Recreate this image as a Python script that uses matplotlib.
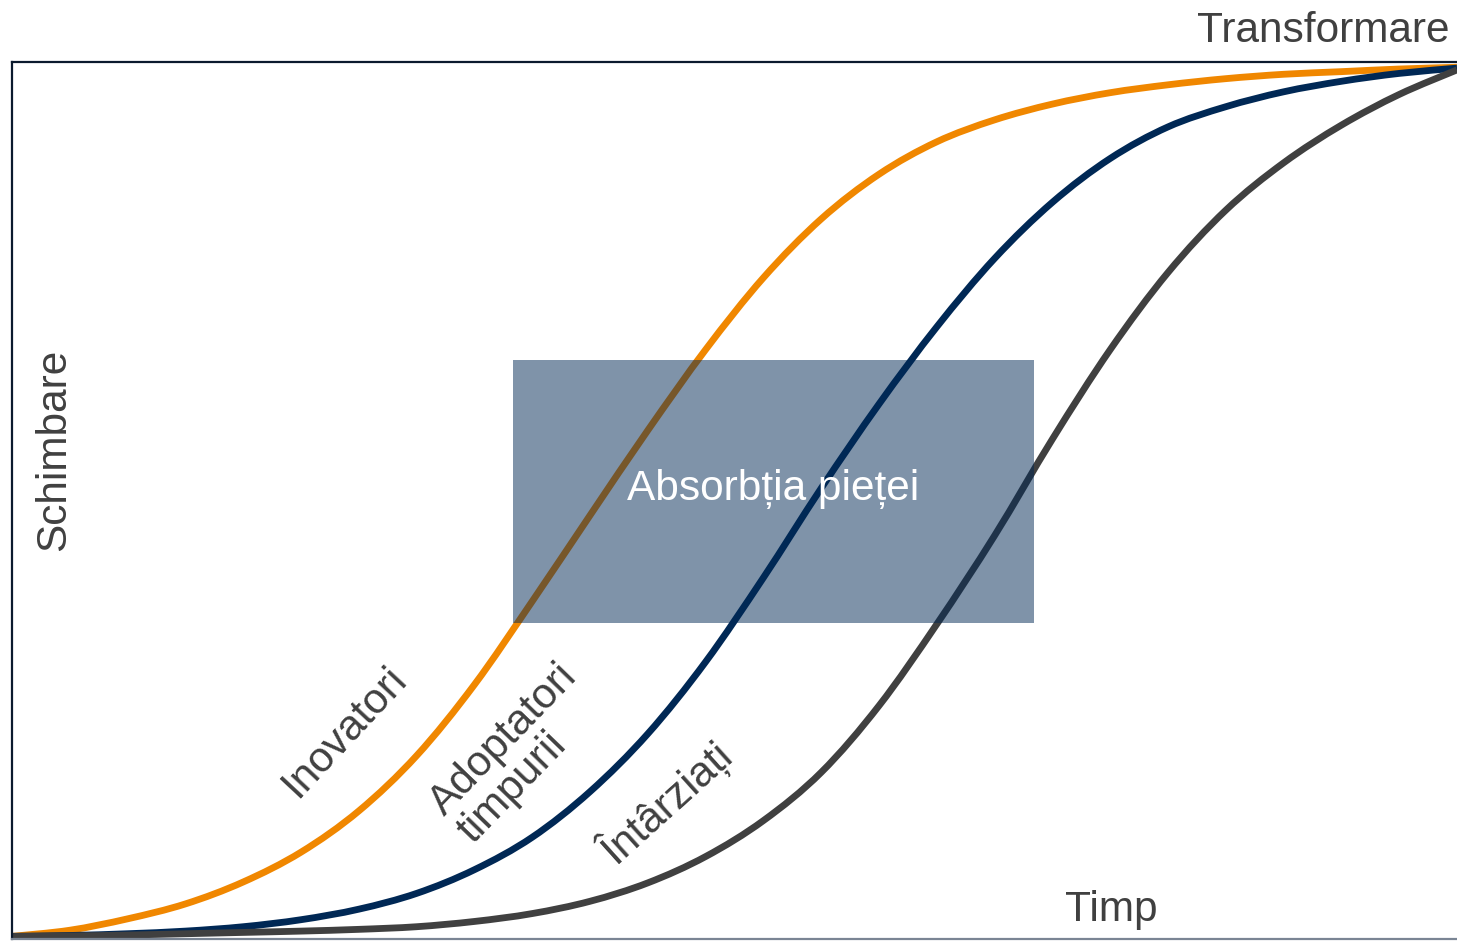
import matplotlib
matplotlib.use("Agg")
import matplotlib.pyplot as plt
from matplotlib.patches import Rectangle, PathPatch
from matplotlib.path import Path

# ---- data (axis units 0..100) ----
x_grid = [0, 4, 8, 12, 16, 20, 24, 28, 32, 36, 40, 44, 48, 52,
          56, 60, 64, 68, 72, 76, 80, 84, 88, 92, 96, 100]
inovatori = [0.3, 1.0, 2.3, 4.0, 6.5, 9.9, 14.6, 20.9, 29.0, 38.5, 48.3, 58.0, 67.2, 75.4,
             82.1, 87.2, 90.9, 93.4, 95.2, 96.5, 97.4, 98.1, 98.6, 98.9, 99.2, 99.4]
adoptatori = [0.3, 0.4, 0.6, 0.9, 1.4, 2.2, 3.4, 5.2, 7.9, 11.6, 16.8, 23.4, 31.6, 41.2,
              51.4, 61.0, 69.8, 77.6, 84.0, 89.0, 92.6, 94.9, 96.6, 97.8, 98.7, 99.3]
intarziati = [0.3, 0.35, 0.45, 0.6, 0.75, 0.9, 1.1, 1.4, 2.0, 2.9, 4.3, 6.4, 9.4, 13.5,
              19.0, 26.6, 35.9, 46.0, 57.0, 67.2, 76.0, 83.1, 88.5, 92.8, 96.3, 99.1]

series = [inovatori, adoptatori, intarziati]
series_colors = ["#F08700", "#002855", "#404040"]
box_x = [34.7, 70.7]
box_y = [36.0, 66.0]


def smooth_path(xs, ys):
    """Cubic Bezier path passing through every data point (Catmull-Rom tangents)."""
    pts = list(zip(xs, ys))
    verts = [pts[0]]
    codes = [Path.MOVETO]
    n = len(pts)
    for i in range(n - 1):
        p0 = pts[i - 1] if i > 0 else pts[i]
        p1 = pts[i]
        p2 = pts[i + 1]
        p3 = pts[i + 2] if i + 2 < n else pts[i + 1]
        c1 = (p1[0] + (p2[0] - p0[0]) / 6.0, p1[1] + (p2[1] - p0[1]) / 6.0)
        c2 = (p2[0] - (p3[0] - p1[0]) / 6.0, p2[1] - (p3[1] - p1[1]) / 6.0)
        verts += [c1, c2, p2]
        codes += [Path.CURVE4] * 3
    return Path(verts, codes)


W, H = 1457, 941
fig = plt.figure(figsize=(W / 100, H / 100), dpi=100)
L, R, B, T = 12, 1457, 939, 62
ax = fig.add_axes([L / W, (H - B) / H, (R - L) / W, (B - T) / H])
ax.set_xlim(0, 100)
ax.set_ylim(0, 100)
ax.set_xticks([])
ax.set_yticks([])

font = ["Liberation Sans", "DejaVu Sans"]
txt_color = "#404040"

for z, (ys, c) in enumerate(zip(series, series_colors)):
    ax.add_patch(PathPatch(smooth_path(x_grid, ys), facecolor="none", edgecolor=c,
                           lw=4.9, capstyle="butt", zorder=2 + z * 0.1, clip_on=False))

ax.add_patch(Rectangle((box_x[0], box_y[0]), box_x[1] - box_x[0], box_y[1] - box_y[0],
                       facecolor="#002855", alpha=0.5, lw=0, zorder=3))
ax.text((box_x[0] + box_x[1]) / 2, 51.3, "Absorbția pieței", color="white",
        fontsize=30.5, family=font, ha="center", va="center", zorder=4)

ax.spines["right"].set_visible(False)
for s in ["left", "top"]:
    ax.spines[s].set_color("#0B1A2E")
    ax.spines[s].set_linewidth(1.6)
ax.spines["bottom"].set_color("#7A8594")
ax.spines["bottom"].set_linewidth(1.6)

ax.text(2.9, 55.8, "Schimbare", rotation=90, fontsize=30.5, family=font, color=txt_color,
        ha="center", va="center")
fig.text(1449 / W, (H - 42) / H, "Transformare", fontsize=30.5, family=font, color=txt_color,
         ha="right", va="baseline")
fig.text(1065 / W, (H - 921) / H, "Timp", fontsize=30.5, family=font, color=txt_color,
         ha="left", va="baseline")

ax.text(23.0, 23.6, "Inovatori", rotation=47, rotation_mode="anchor", fontsize=30.5,
        family=font, color=txt_color, ha="center", va="center")
ax.text(35.0, 21.1, "Adoptatori\ntimpurii", rotation=46, rotation_mode="anchor",
        fontsize=30.5, family=font, color=txt_color, ha="center", va="center",
        multialignment="left", linespacing=1.0)
ax.text(45.3, 15.5, "Întârziați", rotation=42, rotation_mode="anchor", fontsize=30.5,
        family=font, color=txt_color, ha="center", va="center")

fig.savefig("out.png", dpi=100)
